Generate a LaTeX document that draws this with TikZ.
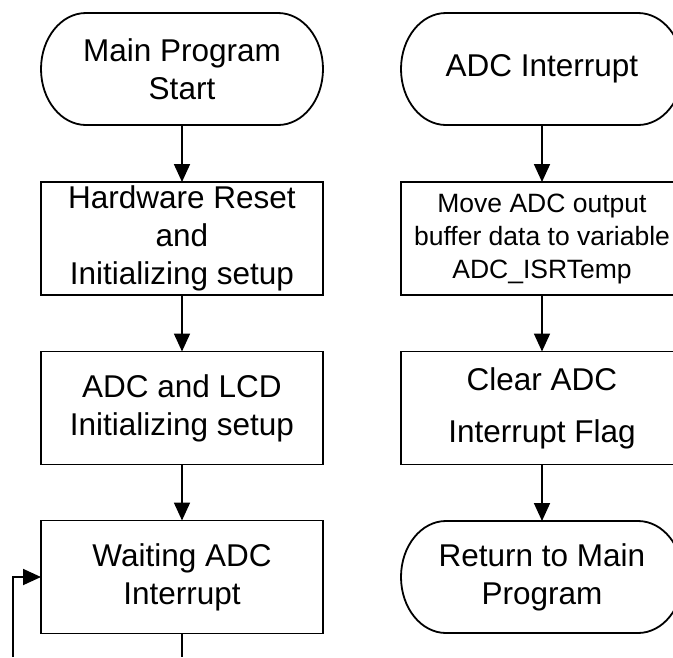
\documentclass[tikz,border=0pt]{standalone}
\usepackage{fontspec}
\setmainfont{Liberation Sans}
\usetikzlibrary{arrows.meta}
\tikzset{
  every node/.style={inner sep=0pt, outer sep=0pt, align=center},
  box/.style={draw, line width=1.8pt, minimum width=282pt, minimum height=113pt, font=\fontsize{31.5}{38}\selectfont},
  term/.style={minimum width=282pt, minimum height=112pt, font=\fontsize{31.5}{38}\selectfont},
  termline/.style={line width=1.8pt},
  arr/.style={line width=1.8pt, -{Triangle[length=18pt,width=16pt]}},
  plain/.style={line width=1.8pt}
}
\begin{document}
\begin{tikzpicture}[x=1pt,y=-1pt]
\clip (0,0) rectangle (673,657);
% left column
\node[term] (t1) at (182,69) {Main Program\\Start};
\node[box] (b1) at (182,238.5) {Hardware Reset\\and\\Initializing setup};
\node[box] (b2) at (182,408) {ADC and LCD\\Initializing setup};
\node[box] (b3) at (182,577) {Waiting ADC\\Interrupt};
% right column
\node[term] (t2) at (542,69) {ADC Interrupt};
\node[box, font=\fontsize{26.5}{33}\selectfont] (r1) at (542,238.5) {Move ADC output\\buffer data to variable\\ADC\_ISRTemp};
\node[box, font=\fontsize{31.5}{52}\selectfont] (r2) at (542,408) {Clear ADC\\Interrupt Flag};
\node[term] (t3) at (542,577) {Return to Main\\Program};
% terminal outlines
\foreach \t in {t1,t2,t3}{
  \draw[termline] ([xshift=45pt]\t.north west) -- ([xshift=-45pt]\t.north east)
    arc[start angle=90, end angle=-90, x radius=45pt, y radius=56pt]
    -- ([xshift=45pt]\t.south west)
    arc[start angle=270, end angle=90, x radius=45pt, y radius=56pt] -- cycle;
}
% connectors
\draw[arr] (t1) -- (b1);
\draw[arr] (b1) -- (b2);
\draw[arr] (b2) -- (b3);
\draw[arr] (t2) -- (r1);
\draw[arr] (r1) -- (r2);
\draw[arr] (r2) -- (t3);
\coordinate (cb) at (182,657);
\coordinate (lp) at (13,657);
\draw[plain] (b3) -- (cb);
\draw[arr] (lp) |- (b3.west);
\end{tikzpicture}
\end{document}
